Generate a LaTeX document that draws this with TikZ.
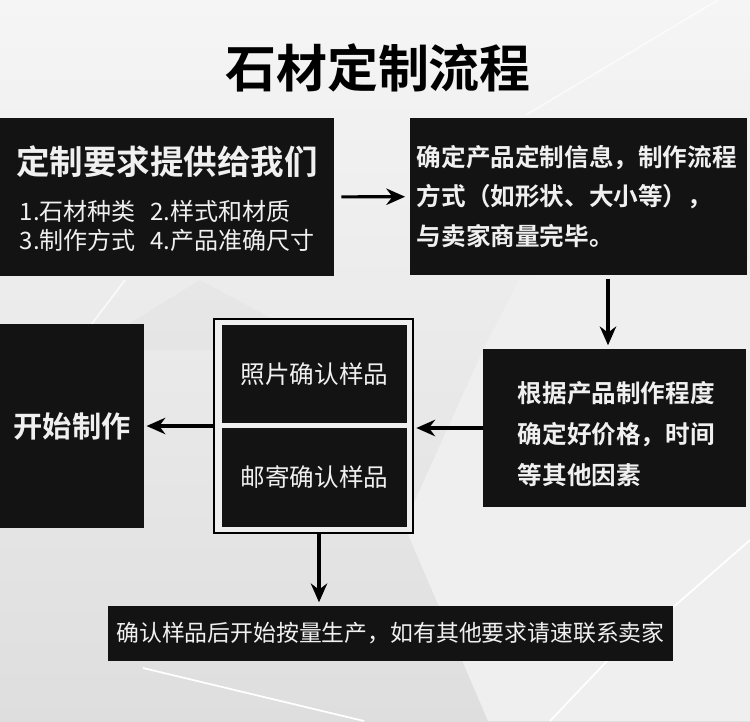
\documentclass[tikz,border=0pt]{standalone}
\usepackage{fontspec}
\setmainfont{Noto Sans CJK SC}[BoldFont={Noto Sans CJK SC Bold}]
\usetikzlibrary{arrows.meta}
\definecolor{boxblack}{HTML}{131313}
\definecolor{boxtext}{HTML}{F0F0F0}
\definecolor{bgtop}{HTML}{F5F5F5}
\definecolor{bgbottom}{HTML}{DEDEDE}
\definecolor{bglight}{HTML}{EFEFEF}
\begin{document}
\begin{tikzpicture}[x=0.03cm, y=-0.03cm,
    box/.style={rectangle, fill=boxblack, text=boxtext, inner sep=0pt, align=center},
    arr/.style={-{Stealth[length=16pt, width=14pt]}, line width=2.6pt, black},
    facet/.style={fill=bglight, draw=none},
    streak/.style={white, line width=1.5pt}
]
% background
\useasboundingbox (0,0) rectangle (750,721);
\shade[top color=bgtop, bottom color=bgbottom] (0,0) rectangle (750,721);
\fill[facet] (521,276) -- (750,260) -- (750,721) -- (488,721) -- (404,525) -- (483,350) -- cycle;
\fill[bgbottom!90!black, opacity=0.12] (86,350) -- (200,280) -- (330,350) -- cycle;
\draw[streak, opacity=0.7] (72,350) -- (125,280);
\draw[streak] (143,668) -- (364,721);
\draw[streak] (608,660) -- (550,721);
\draw[streak] (750,540) -- (670,610);
\draw[streak, opacity=0.6] (718,0) -- (526,115);

% title
\node[font=\fontsize{43.5}{50}\selectfont\bfseries, text=black] (title) at (378,68) {石材定制流程};

% first row
\node[box, minimum width=10.02cm, minimum height=4.74cm] (req) at (167,197)
  {{\fontsize{28.6}{34}\selectfont\bfseries\rule{0pt}{33pt}定制要求提供给我们}\\[18pt]
   {\fontsize{20.5}{24}\selectfont\begin{tabular}{@{}l@{\hspace{12pt}}l@{}}1.石材种类 & 2.样式和材质\\ 3.制作方式 & 4.产品准确尺寸\end{tabular}}};
\node[box, minimum width=10.11cm, minimum height=4.71cm, text width=9.7cm, align=left,
      font=\fontsize{21}{33.6}\selectfont\bfseries] (info) at (578.5,196.5)
  {确定产品定制信息，制作流程\\ 方式（如形状、大小等），\\ 与卖家商量完毕。};

% second row
\node[box, minimum width=7.89cm, minimum height=4.74cm, text width=5.8cm, align=left,
      font=\fontsize{21}{35}\selectfont\bfseries] (price) at (614.5,428)
  {\rule{0pt}{29pt}根据产品制作程度\\ 确定好价格，时间\\ 等其他因素};
\node[draw=black, line width=1.7pt, fill=bglight, minimum width=5.97cm, minimum height=6.42cm, inner sep=0pt] (grp) at (313.5,426) {};
\node[box, minimum width=5.55cm, minimum height=2.94cm, font=\fontsize{21}{25}\selectfont] (photo) at (314.5,374.3) {照片确认样品};
\node[box, minimum width=5.55cm, minimum height=2.97cm, font=\fontsize{21}{25}\selectfont] (mail) at (314.5,477.5) {邮寄确认样品};
\node[box, minimum width=4.32cm, minimum height=6.12cm, font=\fontsize{25}{30}\selectfont\bfseries] (start) at (72,426) {开始制作};

% last row
\node[box, minimum width=16.95cm, minimum height=1.65cm, font=\fontsize{19.5}{24}\selectfont] (prod) at (390.5,633.5)
  {确认样品后开始按量生产，如有其他要求请速联系卖家};

% arrows
\coordinate (a2) at (608,0);
\coordinate (a5) at (319,0);
\draw[arr, shorten <=6pt, shorten >=4pt] (req) -- (info);
\draw[arr, shorten <=3pt, shorten >=3pt] (info.south -| a2) -- (price.north -| a2);
\draw[arr, shorten >=2pt] (price.west) -- (price.west -| grp.east);
\draw[arr, shorten >=2pt] (grp.west) -- (grp.west -| start.east);
\draw[arr, shorten >=3pt] (grp.south -| a5) -- (prod.north -| a5);
\end{tikzpicture}
\end{document}
